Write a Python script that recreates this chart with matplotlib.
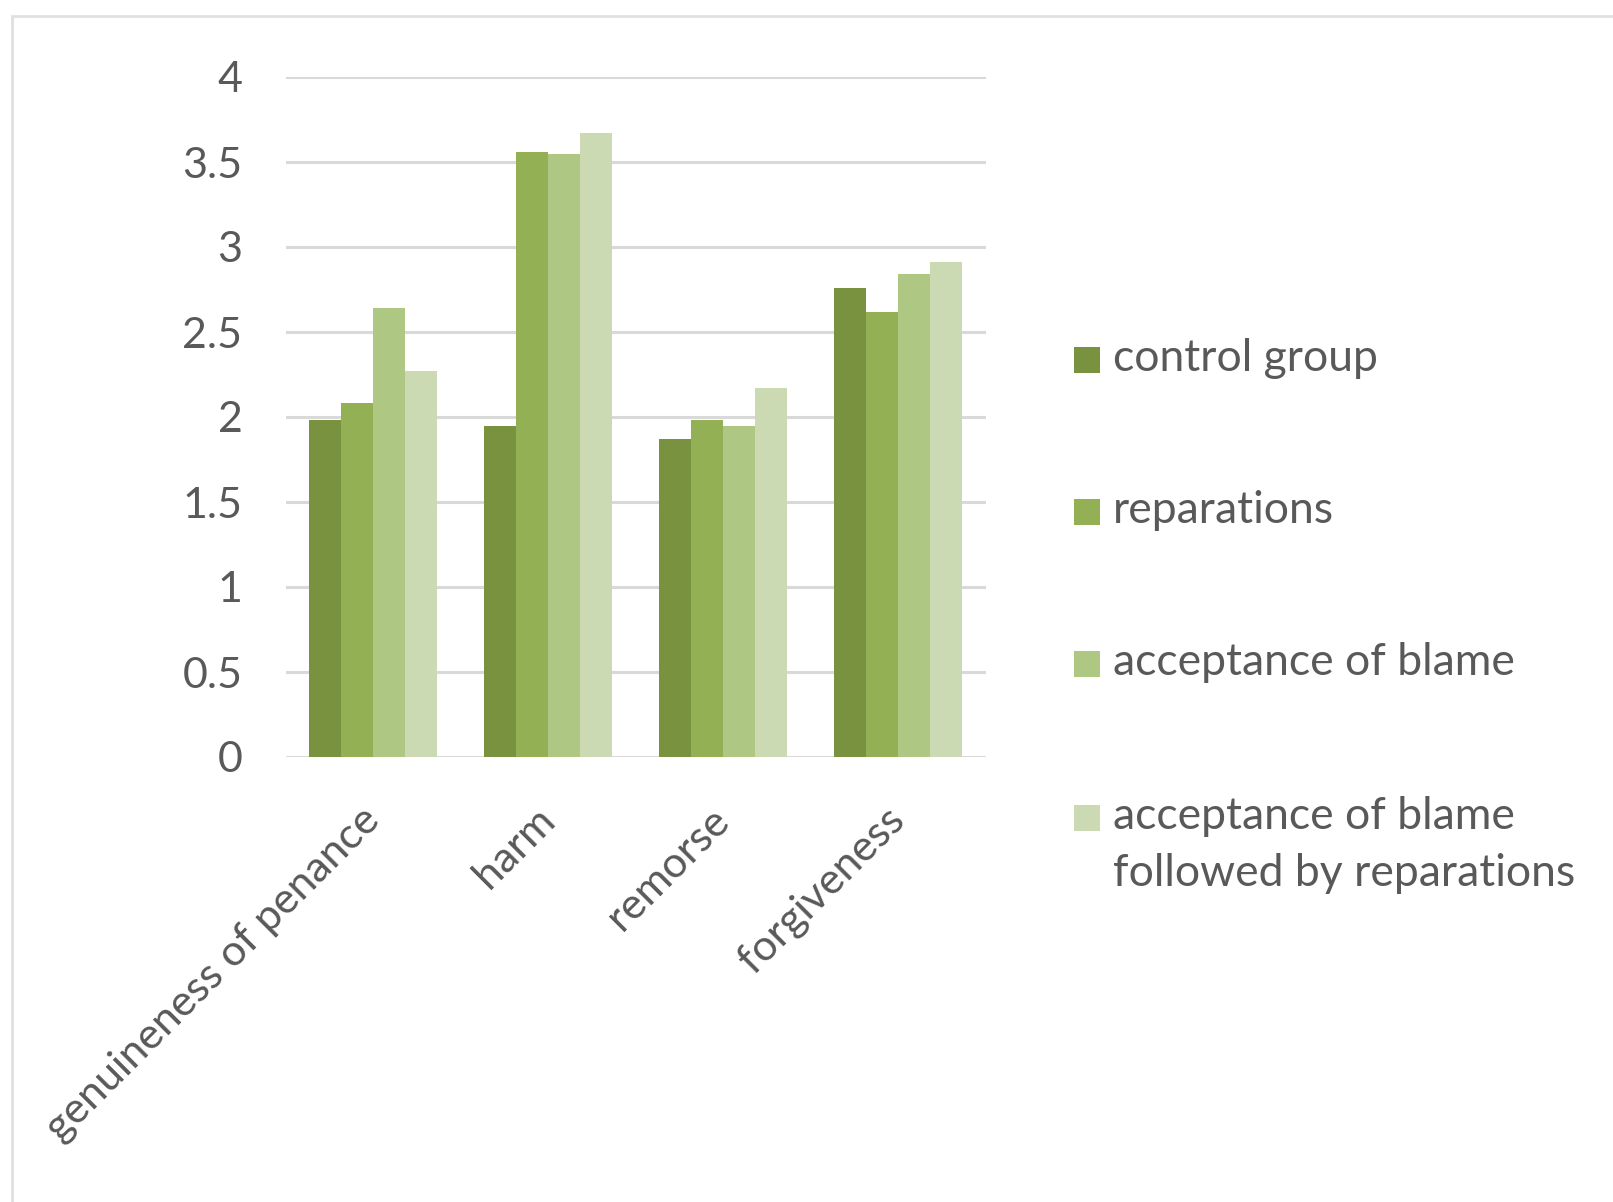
import matplotlib.pyplot as plt
import numpy as np
from matplotlib.patches import Rectangle

plt.rcParams["font.family"] = ["Lato", "DejaVu Sans"]

categories = ["genuineness of penance", "harm", "remorse", "forgiveness"]
series_names = [
    "control group",
    "reparations",
    "acceptance of blame",
    "acceptance of blame\nfollowed by reparations",
]
control_group = [1.98, 1.95, 1.87, 2.76]
reparations = [2.08, 3.56, 1.98, 2.62]
acceptance_of_blame = [2.64, 3.55, 1.95, 2.84]
acceptance_then_reparations = [2.27, 3.67, 2.17, 2.91]
yticks = [0, 0.5, 1, 1.5, 2, 2.5, 3, 3.5, 4]
ytick_labels = ["0", "0.5", "1", "1.5", "2", "2.5", "3", "3.5", "4"]

colors = ["#78923f", "#93b154", "#aec783", "#ccdab4"]
text_color = "#595959"
grid_color = "#d9d9d9"

W, H = 1613, 1202
fig = plt.figure(figsize=(W / 100, H / 100), dpi=100)
fig.patch.set_facecolor("white")

# outer chart frame (only left and top edges visible)
fig.add_artist(Rectangle((12 / W, -0.1), 1.2, 1 - 16 / H + 0.1,
                         transform=fig.transFigure, fill=False,
                         edgecolor="#e0e0e0", linewidth=2))

ax = fig.add_axes([285.5 / W, 1 - 757 / H, 700 / W, 680 / H])

all_series = [control_group, reparations, acceptance_of_blame, acceptance_then_reparations]
x = np.arange(len(categories))
bar_w = 0.184
for i, vals in enumerate(all_series):
    ax.bar(x + (i - 1.5) * bar_w, vals, width=bar_w, color=colors[i],
           label=series_names[i], zorder=3, linewidth=0)

ax.set_xlim(-0.5, len(categories) - 0.5)
ax.set_ylim(0, 4)
ax.set_yticks(yticks)
ax.set_yticklabels(ytick_labels)
ax.yaxis.grid(True, color=grid_color, linewidth=2.2, zorder=0)
ax.set_axisbelow(True)
for s in ax.spines.values():
    s.set_visible(False)
ax.tick_params(axis="y", length=0, pad=31, labelsize=31, labelcolor=text_color)
ax.tick_params(axis="x", length=0, pad=41, labelsize=31, labelcolor=text_color)
ax.set_xticks(x)
ax.set_xticklabels(categories, rotation=45, ha="right", va="center",
                   rotation_mode="anchor")

# legend drawn beside the plot
rows = [360, 512, 664, 818]
for name, col, yc in zip(series_names, colors, rows):
    fig.add_artist(Rectangle((1074 / W, 1 - (yc + 13) / H), 26 / W, 26 / H,
                             transform=fig.transFigure, facecolor=col,
                             edgecolor="none"))
    fig.text(1113 / W, 1 - (yc - 22) / H, name, fontsize=32, color=text_color,
             ha="left", va="top", linespacing=1.5)

fig.savefig("out.png", dpi=100)
